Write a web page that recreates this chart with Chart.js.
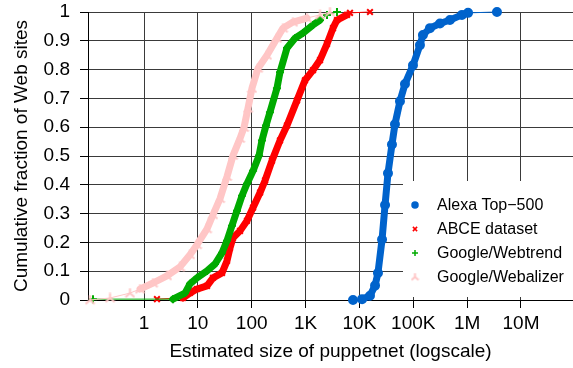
<!DOCTYPE html>
<html lang="en">
<head>
    <meta charset="UTF-8">
    <title>Puppetnet size CDF</title>
    <script src="https://cdn.jsdelivr.net/npm/chart.js@4.4.3/dist/chart.umd.min.js"></script>
    <style>
        html, body { margin: 0; padding: 0; background: #fff; overflow: hidden; }
        #wrap { width: 573px; height: 368px; }
    </style>
</head>
<body>
    <div id="wrap"><canvas id="cdfChart" width="573" height="368"></canvas></div>

    <script>
        // --- data ---
        const alexaX = [7600, 11200, 15700, 19500, 22100, 26300, 29900, 33900, 40200, 45700, 56600, 70100, 98700, 133000, 151000, 204000, 313000, 480000, 802000, 1040000, 3580000];
        const alexaY = [0, 0.003, 0.015, 0.05, 0.094, 0.21, 0.33, 0.44, 0.54, 0.61, 0.69, 0.75, 0.815, 0.885, 0.92, 0.944, 0.96, 0.972, 0.99, 0.997, 1.0];

        const abceX = [1.74, 5.3, 7.1, 9.6, 14.8, 19.1, 28.1, 34.8, 39.5, 45, 60.7, 81.7, 106, 143, 177, 238, 335, 452, 693, 975, 1373, 1853, 2500, 3230, 3830, 5870, 6680, 15700];
        const abceY = [0.003, 0.007, 0.024, 0.038, 0.049, 0.077, 0.094, 0.136, 0.181, 0.216, 0.24, 0.275, 0.321, 0.373, 0.415, 0.484, 0.554, 0.606, 0.693, 0.763, 0.798, 0.833, 0.889, 0.944, 0.972, 0.99, 0.997, 1.0];

        const webtrendX = [0.113, 3.45, 5.77, 7.14, 9.64, 14.8, 20.8, 28.1, 34.8, 43, 53.3, 66, 81.7, 106, 137, 155, 184, 218, 294, 335, 452, 636, 896, 1373, 1853, 2500, 3830];
        const webtrendY = [0.003, 0.003, 0.024, 0.056, 0.077, 0.101, 0.125, 0.164, 0.206, 0.258, 0.31, 0.362, 0.404, 0.449, 0.502, 0.554, 0.606, 0.652, 0.735, 0.791, 0.875, 0.909, 0.927, 0.955, 0.972, 0.99, 1.0];

        const webalizerX = [0.0994, 0.234, 0.549, 0.843, 1.47, 2.67, 4.66, 7.14, 9.64, 14.8, 19.1, 25.8, 34.8, 45, 60.7, 71.9, 85.3, 101, 131, 192, 294, 381, 584, 1062, 1853, 2840];
        const webalizerY = [0, 0.007, 0.024, 0.038, 0.059, 0.084, 0.115, 0.157, 0.192, 0.247, 0.296, 0.352, 0.429, 0.502, 0.561, 0.599, 0.666, 0.735, 0.805, 0.85, 0.909, 0.944, 0.965, 0.979, 0.99, 1.0];

        const seriesLabels = ['Alexa Top\u2212500', 'ABCE dataset', 'Google/Webtrend', 'Google/Webalizer'];
        const xTickValues = [1, 10, 100, 1e3, 1e4, 1e5, 1e6, 1e7];
        const xTickLabels = ['1', '10', '100', '1K', '10K', '100K', '1M', '10M'];

        const FONT = '"Liberation Sans", Arial, sans-serif';

        // tri marker for the Webalizer series
        function triMarker(color, size) {
            const c = document.createElement('canvas');
            c.width = size; c.height = size;
            const g = c.getContext('2d');
            const m = size / 2;
            g.strokeStyle = color;
            g.lineWidth = 2;
            g.beginPath();
            g.moveTo(m, m); g.lineTo(m, 0.5);
            g.moveTo(m, m); g.lineTo(1, size - 1.5);
            g.moveTo(m, m); g.lineTo(size - 1, size - 1.5);
            g.stroke();
            return c;
        }

        const toPoints = (xs, ys) => xs.map((x, i) => ({ x: x, y: ys[i] }));

        // segments listed in `thin` are drawn as a plain 1px line (sparse parts),
        // the rest as a thick band like the dense markers of the original
        function makeSet(label, xs, ys, color, style, radius, order, thin) {
            return {
                label: label,
                data: toPoints(xs, ys),
                borderColor: color,
                backgroundColor: color,
                pointBackgroundColor: color,
                pointBorderColor: color,
                pointStyle: style,
                pointRadius: radius,
                pointBorderWidth: 2,
                borderWidth: 7,
                borderCapStyle: 'round',
                borderJoinStyle: 'round',
                showLine: true,
                tension: 0,
                clip: false,
                order: order,
                segment: {
                    borderWidth: (ctx) => thin.includes(ctx.p0DataIndex) ? 1 : 7
                }
            };
        }

        const blue = '#0063cc';
        const red = '#ff0000';
        const green = '#00aa00';
        const pink = '#ffc6c6';

        const datasets = [
            makeSet(seriesLabels[0], alexaX, alexaY, blue, 'circle', 4, 4, [0, 19]),
            makeSet(seriesLabels[1], abceX, abceY, red, 'crossRot', 4, 3, [0, 25, 26]),
            makeSet(seriesLabels[2], webtrendX, webtrendY, green, 'cross', 4, 2, [0, 24, 25]),
            makeSet(seriesLabels[3], webalizerX, webalizerY, pink, triMarker(pink, 11), 5, 1, [0, 1, 2, 23, 24])
        ];

        // legend drawn inside the plot, over a white box (lower right)
        const legendBox = {
            id: 'legendBox',
            afterDatasetsDraw(chart) {
                const ctx = chart.ctx;
                const area = chart.chartArea;
                const x0 = area.right - 170;
                const y0 = area.top + 169;
                ctx.save();
                ctx.fillStyle = '#ffffff';
                ctx.fillRect(x0, y0, area.right - x0, area.bottom - 3 - y0);
                chart.data.datasets.forEach((ds, i) => {
                    const y = y0 + 24 + i * 24;
                    ctx.strokeStyle = ds.borderColor;
                    ctx.fillStyle = ds.backgroundColor;
                    ctx.lineWidth = 1.5;
                    let style = ds.pointStyle;
                    if (typeof style !== 'string') style = triMarker(ds.borderColor, 9);
                    Chart.helpers.drawPoint(ctx, { pointStyle: style, radius: 3, rotation: 0, borderWidth: 1.5 }, x0 + 12, y);
                    ctx.fillStyle = '#000';
                    ctx.font = '16px ' + FONT;
                    ctx.textBaseline = 'middle';
                    ctx.textAlign = 'left';
                    ctx.fillText(ds.label, x0 + 34, y + 1);
                });
                ctx.restore();
            }
        };

        const gridColor = '#3a3a3a';

        new Chart(document.getElementById('cdfChart').getContext('2d'), {
            type: 'scatter',
            data: { datasets: datasets },
            plugins: [legendBox],
            options: {
                responsive: false,
                animation: false,
                events: [],
                layout: { autoPadding: false, padding: { top: 12, right: 0, left: 0, bottom: 0 } },
                scales: {
                    x: {
                        type: 'logarithmic',
                        min: 0.0912,
                        max: 9.24e7,
                        afterBuildTicks: (scale) => {
                            scale.ticks = xTickValues.map(v => ({ value: v }));
                        },
                        afterFit: (scale) => {
                            scale.height = 68;
                            scale.paddingLeft = 0;
                            scale.paddingRight = 0;
                        },
                        ticks: {
                            color: '#000',
                            font: { family: FONT, size: 19 },
                            padding: 4,
                            maxRotation: 0,
                            autoSkip: false,
                            callback: (value) => {
                                const i = xTickValues.indexOf(value);
                                return i >= 0 ? xTickLabels[i] : '';
                            }
                        },
                        grid: { color: gridColor, lineWidth: 1, tickLength: 8, tickColor: '#000' },
                        border: { color: '#000', width: 1 },
                        title: {
                            display: true,
                            text: 'Estimated size of puppetnet (logscale)',
                            color: '#000',
                            font: { family: FONT, size: 19 },
                            padding: { top: 0, bottom: 5 }
                        }
                    },
                    y: {
                        min: 0,
                        max: 1,
                        afterFit: (scale) => {
                            scale.width = 88;
                            scale.paddingTop = 0;
                            scale.paddingBottom = 0;
                        },
                        ticks: {
                            stepSize: 0.1,
                            color: '#000',
                            font: { family: FONT, size: 19 },
                            padding: 10,
                            callback: (value) => String(Math.round(value * 10) / 10)
                        },
                        grid: { color: gridColor, lineWidth: 1, tickLength: 8, tickColor: '#000' },
                        border: { color: '#000', width: 1 },
                        title: {
                            display: true,
                            text: 'Cumulative fraction of Web sites',
                            color: '#000',
                            font: { family: FONT, size: 19 },
                            padding: { top: 10, bottom: 0 }
                        }
                    }
                },
                plugins: {
                    legend: { display: false },
                    tooltip: { enabled: false }
                }
            }
        });
    </script>
</body>
</html>
